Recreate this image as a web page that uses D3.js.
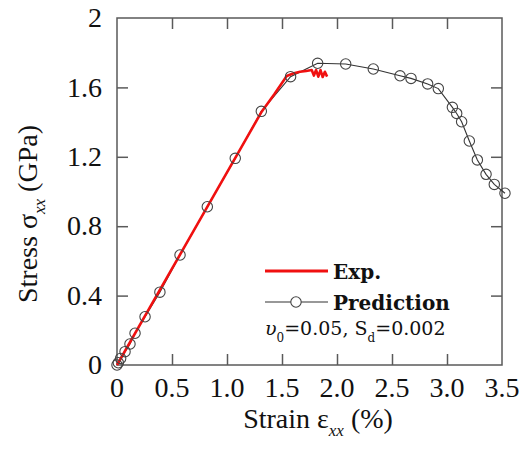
<!DOCTYPE html>
<html>
<head>
<meta charset="utf-8">
<script src="https://cdn.jsdelivr.net/npm/d3@7"></script>
<style>
  body { margin: 0; background: #fff; }
</style>
</head>
<body>
<script>
// Experimental curve (red)
const expStrain = [0, 0.3, 0.6, 0.9, 1.2, 1.31, 1.43, 1.543, 1.6, 1.664, 1.72, 1.77, 1.79, 1.81, 1.83, 1.85, 1.87, 1.89, 1.91];
const expStress = [0, 0.333, 0.666, 0.999, 1.332, 1.455, 1.56, 1.666, 1.68, 1.69, 1.695, 1.70, 1.668, 1.70, 1.662, 1.70, 1.66, 1.69, 1.662];

// Model prediction (black line + circles)
const predStrain = [0, 0.012, 0.033, 0.073, 0.118, 0.164, 0.255, 0.39, 0.573, 0.821, 1.075, 1.312, 1.578, 1.824, 2.079, 2.33, 2.573, 2.673, 2.824, 2.921, 3.049, 3.088, 3.133, 3.203, 3.276, 3.355, 3.43, 3.527];
const predStress = [0, 0.013, 0.038, 0.077, 0.121, 0.183, 0.278, 0.42, 0.634, 0.912, 1.191, 1.462, 1.662, 1.739, 1.735, 1.706, 1.667, 1.652, 1.62, 1.593, 1.485, 1.45, 1.402, 1.291, 1.182, 1.099, 1.041, 0.99];

const xTicks = [0, 0.5, 1.0, 1.5, 2.0, 2.5, 3.0, 3.5];
const yTicks = [0, 0.4, 0.8, 1.2, 1.6, 2];

const legendLabels = ["Exp.", "Prediction"];

const width = 523, height = 451;
const margin = { top: 18, right: 21, bottom: 86, left: 117 };
const frameColor = "#5a5a5a";

const x = d3.scaleLinear().domain([0, 3.5]).range([margin.left, width - margin.right]);
const y = d3.scaleLinear().domain([0, 2]).range([height - margin.bottom, margin.top]);

const svg = d3.select("body").append("svg")
    .attr("width", width)
    .attr("height", height)
    .style("font-family", "'Liberation Serif', 'Times New Roman', serif");

// frame
svg.append("rect")
    .attr("x", x(0)).attr("y", y(2))
    .attr("width", x(3.5) - x(0)).attr("height", y(0) - y(2))
    .attr("fill", "none")
    .attr("stroke", frameColor)
    .attr("stroke-width", 1.5);

// inward ticks on all four sides, labels only bottom / left
const tickLen = 11;
const innerX = xTicks.slice(1, -1), innerY = yTicks.slice(1, -1);

svg.append("g")
    .attr("transform", `translate(0,${y(0)})`)
    .call(d3.axisBottom(x).tickValues(innerX).tickSizeInner(-tickLen).tickSizeOuter(0).tickFormat(""))
    .call(g => g.select(".domain").remove())
    .call(g => g.selectAll("line").attr("stroke", frameColor).attr("stroke-width", 1.5));

svg.append("g")
    .attr("transform", `translate(0,${y(2)})`)
    .call(d3.axisTop(x).tickValues(innerX).tickSizeInner(-tickLen).tickSizeOuter(0).tickFormat(""))
    .call(g => g.select(".domain").remove())
    .call(g => g.selectAll("line").attr("stroke", frameColor).attr("stroke-width", 1.5));

svg.append("g")
    .attr("transform", `translate(${x(0)},0)`)
    .call(d3.axisLeft(y).tickValues(innerY).tickSizeInner(-tickLen).tickSizeOuter(0).tickFormat(""))
    .call(g => g.select(".domain").remove())
    .call(g => g.selectAll("line").attr("stroke", frameColor).attr("stroke-width", 1.5));

svg.append("g")
    .attr("transform", `translate(${x(3.5)},0)`)
    .call(d3.axisRight(y).tickValues(innerY).tickSizeInner(-tickLen).tickSizeOuter(0).tickFormat(""))
    .call(g => g.select(".domain").remove())
    .call(g => g.selectAll("line").attr("stroke", frameColor).attr("stroke-width", 1.5));

// tick labels
svg.append("g")
    .selectAll("text")
    .data(xTicks)
    .join("text")
    .attr("x", d => x(d))
    .attr("y", 397)
    .attr("text-anchor", "middle")
    .attr("font-size", 28)
    .attr("fill", "#111")
    .text(d => d === 0 ? "0" : d3.format(".1f")(d));

svg.append("g")
    .selectAll("text")
    .data(yTicks)
    .join("text")
    .attr("x", 102)
    .attr("y", d => y(d))
    .attr("dy", "0.33em")
    .attr("text-anchor", "end")
    .attr("font-size", 28)
    .attr("fill", "#111")
    .text(d => d3.format("~g")(d));

// axis titles
const xTitle = svg.append("text")
    .attr("x", 318)
    .attr("y", 428)
    .attr("text-anchor", "middle")
    .attr("font-size", 28)
    .attr("fill", "#111");
xTitle.append("tspan").text("Strain \u03b5");
xTitle.append("tspan").attr("dy", 8).attr("font-size", 17).attr("font-style", "italic").text("xx");
xTitle.append("tspan").attr("dy", -8).text(" (%)");

const yTitle = svg.append("text")
    .attr("transform", `translate(37,214) rotate(-90)`)
    .attr("text-anchor", "middle")
    .attr("font-size", 28)
    .attr("fill", "#111");
yTitle.append("tspan").text("Stress \u03c3");
yTitle.append("tspan").attr("dy", 8).attr("font-size", 17).attr("font-style", "italic").text("xx");
yTitle.append("tspan").attr("dy", -8).text(" (GPa)");

// data
const pred = predStrain.map((d, i) => [d, predStress[i]]);
const exp = expStrain.map((d, i) => [d, expStress[i]]);
const line = d3.line().x(d => x(d[0])).y(d => y(d[1]));

svg.append("path")
    .datum(pred)
    .attr("fill", "none")
    .attr("stroke", "#333")
    .attr("stroke-width", 1.1)
    .attr("d", line);

svg.append("path")
    .datum(exp)
    .attr("fill", "none")
    .attr("stroke", "#f01010")
    .attr("stroke-width", 2.6)
    .attr("stroke-linejoin", "round")
    .attr("d", line);

svg.append("g")
    .selectAll("circle")
    .data(pred)
    .join("circle")
    .attr("cx", d => x(d[0]))
    .attr("cy", d => y(d[1]))
    .attr("r", 5.2)
    .attr("fill", "none")
    .attr("stroke", "#444")
    .attr("stroke-width", 1.1);

// legend
const legend = svg.append("g").attr("transform", "translate(265,271)");
legend.append("line")
    .attr("x1", 0).attr("x2", 63).attr("y1", 0).attr("y2", 0)
    .attr("stroke", "#f01010").attr("stroke-width", 3);
legend.append("line")
    .attr("x1", 0).attr("x2", 63).attr("y1", 31).attr("y2", 31)
    .attr("stroke", "#333").attr("stroke-width", 1.1);
legend.append("circle")
    .attr("cx", 31).attr("cy", 31).attr("r", 5.2)
    .attr("fill", "#fff").attr("stroke", "#444").attr("stroke-width", 1.1);
legend.selectAll("text.lab")
    .data(legendLabels)
    .join("text")
    .attr("class", "lab")
    .attr("x", 68)
    .attr("y", (d, i) => 8 + i * 31)
    .attr("font-family", "'DejaVu Serif', serif")
    .attr("font-weight", "bold")
    .attr("font-size", 20)
    .attr("fill", "#111")
    .text(d => d);

const note = legend.append("text")
    .attr("x", 0)
    .attr("y", 64)
    .attr("font-family", "'DejaVu Serif', serif")
    .attr("font-size", 19)
    .attr("fill", "#111");
note.append("tspan").attr("font-style", "italic").text("\u03c5");
note.append("tspan").attr("dy", 7).attr("font-size", 12).text("0");
note.append("tspan").attr("dy", -7).text("=0.05, S");
note.append("tspan").attr("dy", 7).attr("font-size", 12).text("d");
note.append("tspan").attr("dy", -7).text("=0.002");
</script>
</body>
</html>
